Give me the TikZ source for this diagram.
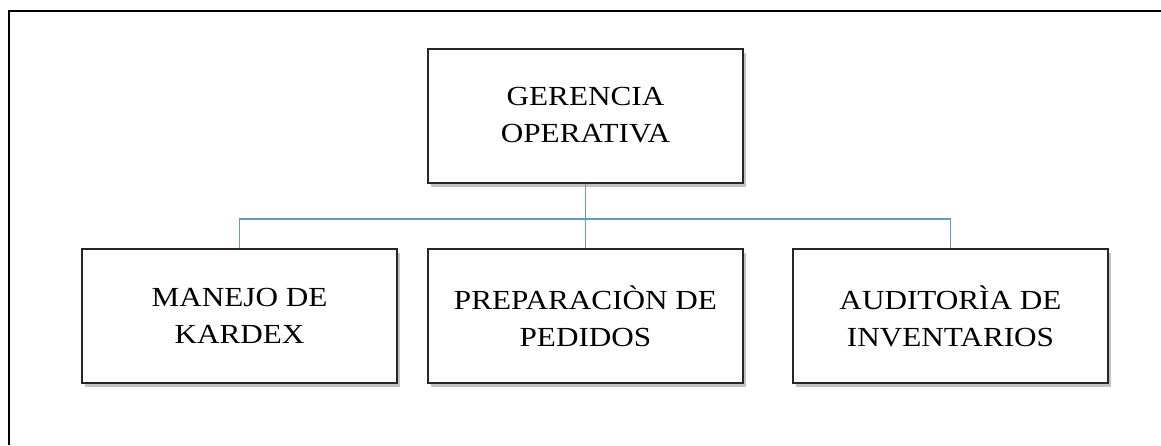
\documentclass[tikz,border=0pt]{standalone}
\usepackage{fontspec}
\setmainfont{Liberation Serif}[FakeStretch=1.13]
\usepackage{xcolor}
\usetikzlibrary{calc,positioning,shadows}
\definecolor{linkblue}{RGB}{91,155,213}

\tikzset{
  unit/.style={draw=black!85,line width=1pt,fill=white,
    minimum width=157.5pt,minimum height=67pt,align=center,
    font=\fontsize{13.8}{18.5}\selectfont,
    drop shadow={shadow xshift=1.5pt,shadow yshift=-2pt,opacity=0.4,fill=black!60}},
  link/.style={draw=linkblue,line width=0.9pt}
}

\begin{document}
\begin{tikzpicture}[node distance=100.25pt]
\useasboundingbox (0,0) rectangle (580.5pt,-222.5pt);
% frame (top and left edges)
\draw[line width=1pt] (4.5pt,-222.5pt) -- (4.5pt,-5.5pt) -- (580.5pt,-5.5pt);

\node[unit] (ger) at (292.75pt,-57.75pt) {GERENCIA\\OPERATIVA};
\node[unit] (prep) [below of=ger] {PREPARACIÒN DE\\PEDIDOS};
\node[unit] (kardex) [left of=prep,node distance=173pt] {MANEJO DE\\KARDEX};
\node[unit] (audit) [right of=prep,node distance=182.5pt] {AUDITORÌA DE\\INVENTARIOS};

\draw[link] (ger) -- (prep);
\draw[link] (kardex.north) -- ++(0,14.5pt) -| (audit.north);
\end{tikzpicture}
\end{document}
